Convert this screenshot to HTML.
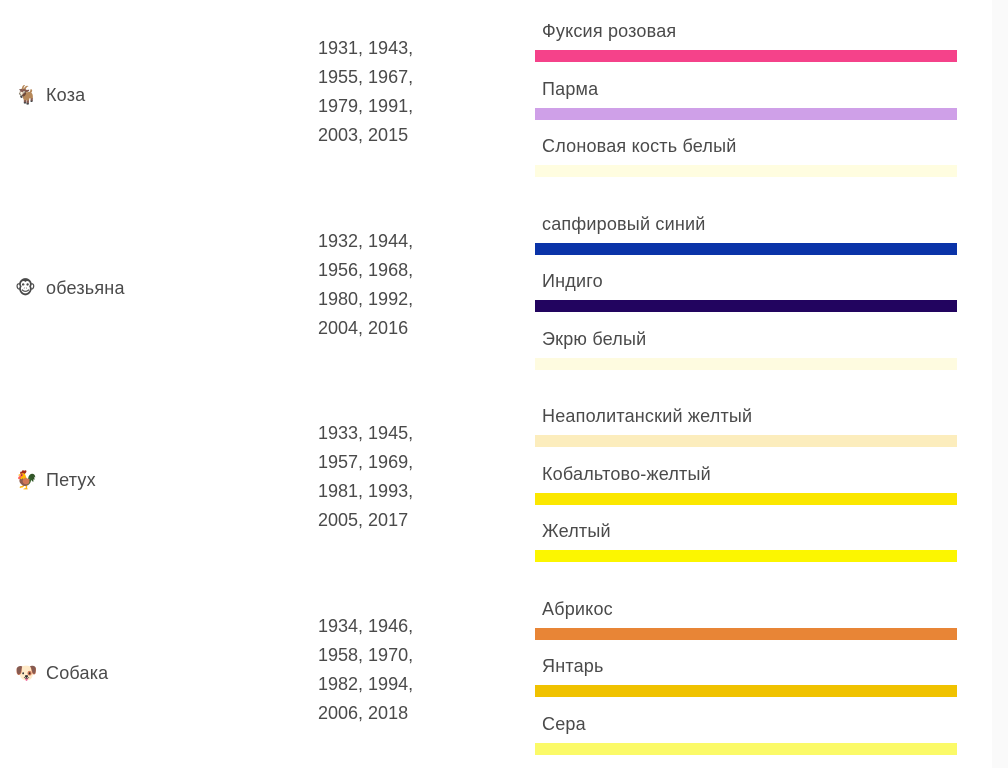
<!DOCTYPE html>
<html><head><meta charset="utf-8">
<style>
body{margin:0;width:1008px;height:768px;background:#fff;overflow:hidden;font-family:"Liberation Sans","DejaVu Sans",sans-serif;color:#4a4a4a;position:relative}
.a{position:absolute;white-space:nowrap;letter-spacing:0.2px}
.an{font-size:18px;line-height:20px}
.yr{font-size:18px;line-height:29px;letter-spacing:0}
.lb{font-size:18px;line-height:20px}
.ic{position:absolute;left:-1px;top:0;width:24px;font-size:18px;font-family:"DejaVu Sans",sans-serif}
.bar{position:absolute;left:535px;width:422px;height:12px}
#scroll{position:absolute;left:992px;top:0;width:16px;height:768px;background:#fafafa}
</style></head><body>
<div id="scroll"></div>
<script>
const animals=["Коза","обезьяна","Петух","Собака"];
const icons=["🐐","🐵","🐓","🐶"];
const years=[["1931, 1943,","1955, 1967,","1979, 1991,","2003, 2015"],["1932, 1944,","1956, 1968,","1980, 1992,","2004, 2016"],["1933, 1945,","1957, 1969,","1981, 1993,","2005, 2017"],["1934, 1946,","1958, 1970,","1982, 1994,","2006, 2018"]];
const colorNames=[["Фуксия розовая","Парма","Слоновая кость белый"],["сапфировый синий","Индиго","Экрю белый"],["Неаполитанский желтый","Кобальтово-желтый","Желтый"],["Абрикос","Янтарь","Сера"]];
const colorValues=[["#f5428a","#cfa0e8","#fffde0"],["#0a33a8","#22045f","#fefbe0"],["#fcedbd","#fbe700","#fcf600"],["#e88536","#f0c200","#fbfa68"]];
const G=192.5;
animals.forEach((n,i)=>{
  const top=i*G;
  const row=document.createElement('div');
  
  
  document.body.appendChild(row);
  const ic=document.createElement('div');ic.className='a ic';
  
  
  ic.style.left='15px';ic.style.top=(top+85)+'px';ic.textContent=icons[i];
  row.appendChild(ic);
  const a=document.createElement('div');a.className='a an';
  
  
  a.style.left='46px';a.style.top=(top+85)+'px';
  a.textContent=n;
  row.appendChild(a);
  const y=document.createElement('div');y.className='a yr';
  
  
  y.style.left='318px';y.style.top=(top+34)+'px';
  y.innerHTML=years[i].join('<br>');
  row.appendChild(y);
  colorNames[i].forEach((c,j)=>{
    const bt=top+50+j*57.5;
    const l=document.createElement('div');l.className='a lb';
    
    
    l.style.left='542px';l.style.top=(bt-29)+'px';l.textContent=c;
    row.appendChild(l);
    const b=document.createElement('div');b.className='bar';
    
    
    b.style.top=bt+'px';b.style.background=colorValues[i][j];
    row.appendChild(b);
  });
});
</script>
</body></html>
